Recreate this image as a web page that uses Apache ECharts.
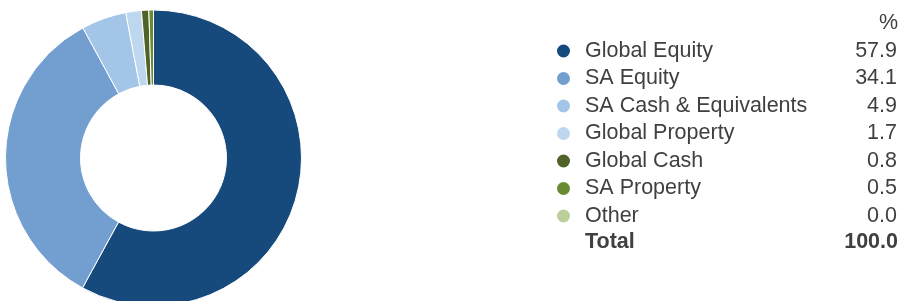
<!DOCTYPE html>
<html>
<head>
<meta charset="utf-8">
<script src="https://cdn.jsdelivr.net/npm/echarts@6/dist/echarts.min.js"></script>
<style>
    html, body { margin: 0; padding: 0; background: #fff; }
    #chart { width: 900px; height: 301px; }
</style>
</head>
<body>
<div id="chart"></div>
<script>
// asset allocation (%)
const categories = ['Global Equity', 'SA Equity', 'SA Cash & Equivalents', 'Global Property', 'Global Cash', 'SA Property', 'Other']
const values = [57.9, 34.1, 4.9, 1.7, 0.8, 0.5, 0.0]
const colors = ['#174a7c', '#729fcf', '#a3c5e8', '#bdd7ee', '#4f6228', '#6a8b31', '#bcd09a']
const totalLabel = 'Total'
const totalValue = '100.0'
const unitLabel = '%'

const textColor = '#404040'
const font = 'Liberation Sans, Arial, sans-serif'

const chart = echarts.init(document.getElementById('chart'))

chart.setOption({
    animation: false,
    color: colors,
    legend: {
        orient: 'vertical',
        left: 550,
        top: 35,
        icon: 'circle',
        itemWidth: 15,
        itemHeight: 15,
        itemGap: 5.5,
        selectedMode: false,
        data: categories,
        formatter: name => {
            const v = values[categories.indexOf(name)]
            return '{n|' + name + '}{v|' + v.toFixed(1) + '}'
        },
        textStyle: {
            color: textColor,
            fontFamily: font,
            fontSize: 21.5,
            rich: {
                n: { width: 234, padding: [0, 0, 0, 9], fontSize: 21.5, lineHeight: 21.5, color: textColor, fontFamily: font },
                v: { width: 78, align: 'right', fontSize: 21.5, lineHeight: 21.5, color: textColor, fontFamily: font }
            }
        }
    },
    graphic: [
        {
            type: 'text', right: 2, top: 12,
            style: { text: unitLabel, fill: textColor, font: '21.5px ' + font }
        },
        {
            type: 'text', left: 585, top: 231,
            style: { text: totalLabel, fill: textColor, font: 'bold 21.5px ' + font }
        },
        {
            type: 'text', right: 2, top: 231,
            style: { text: totalValue, fill: textColor, font: 'bold 21.5px ' + font }
        }
    ],
    series: [
        {
            name: 'Asset Allocation',
            type: 'pie',
            center: [153.5, 158],
            radius: [73, 148],
            startAngle: 90,
            clockwise: true,
            label: { show: false },
            labelLine: { show: false },
            itemStyle: { borderColor: '#fff', borderWidth: 1 },
            emphasis: { disabled: true },
            data: categories.map((c, i) => ({ name: c, value: values[i] }))
        }
    ]
})
</script>
</body>
</html>
